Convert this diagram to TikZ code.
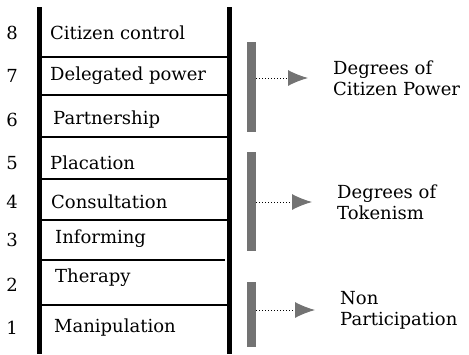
\documentclass[tikz,border=0pt]{standalone}
\usepackage{fontspec}
\setmainfont{DejaVu Serif}
\usetikzlibrary{arrows.meta}
\tikzset{
  lbl/.style={font=\fontsize{18}{21}\selectfont, inner sep=0pt},
  rail/.style={line width=5pt},
  rung/.style={line width=1.5pt},
  grp/.style={fill=black!55, minimum width=9pt, inner sep=0pt},
  link/.style={dotted, line width=1pt, shorten >=25pt,
    -{Latex[length=20pt,width=16pt,color=black!55,fill=black!55]}}
}
\begin{document}
\begin{tikzpicture}[x=1pt,y=-1pt]
\useasboundingbox (0,0) rectangle (469,354);
% the ladder
\draw[rail] (39,7) -- (39,354);
\draw[rail] (229,7) -- (229,354);
\draw[rung] (39,57) -- (229,57);
\draw[rung] (39,95) -- (229,95);
\draw[rung] (39,137) -- (229,137);
\draw[rung] (39,179) -- (229,179);
\draw[rung] (39,220) -- (229,220);
\draw[rung] (39,260) -- (225,260);
\draw[rung] (39,305) -- (229,305);
% rung numbers
\node[lbl] (n8) at (12,33) {8};
\node[lbl] (n7) at (12,76) {7};
\node[lbl] (n6) at (12,120) {6};
\node[lbl] (n5) at (12,163) {5};
\node[lbl] (n4) at (12,202) {4};
\node[lbl] (n3) at (12,240) {3};
\node[lbl] (n2) at (12,285) {2};
\node[lbl] (n1) at (12,328) {1};
% rung names
\node[lbl,anchor=west] (r8) at (50,33) {Citizen control};
\node[lbl,anchor=west] (r7) at (50,76) {Delegated power};
\node[lbl,anchor=west] (r6) at (53,120) {Partnership};
\node[lbl,anchor=west] (r5) at (50,163) {Placation};
\node[lbl,anchor=west] (r4) at (51,202) {Consultation};
\node[lbl,anchor=west] (r3) at (55,239) {Informing};
\node[lbl,anchor=west] (r2) at (55,278) {Therapy};
\node[lbl,anchor=west] (r1) at (54,328) {Manipulation};
% groups
\node[grp,minimum height=90pt] (g3) at (251.5,87) {};
\node[grp,minimum height=99pt] (g2) at (251.5,201.5) {};
\node[grp,minimum height=65pt] (g1) at (251.5,314.5) {};
\node[lbl,anchor=west,align=left] (t3) at (333,78) {Degrees of\\Citizen Power};
\node[lbl,anchor=west,align=left] (t2) at (337,202) {Degrees of\\Tokenism};
\node[lbl,anchor=west,align=left] (t1) at (340,310) {Non\\Participation};
\draw[link] (g3.east |- t3.west) -- (t3.west);
\draw[link] (g2.east |- t2.west) -- (t2.west);
\draw[link] (g1.east |- t1.west) -- (t1.west);
\end{tikzpicture}
\end{document}
